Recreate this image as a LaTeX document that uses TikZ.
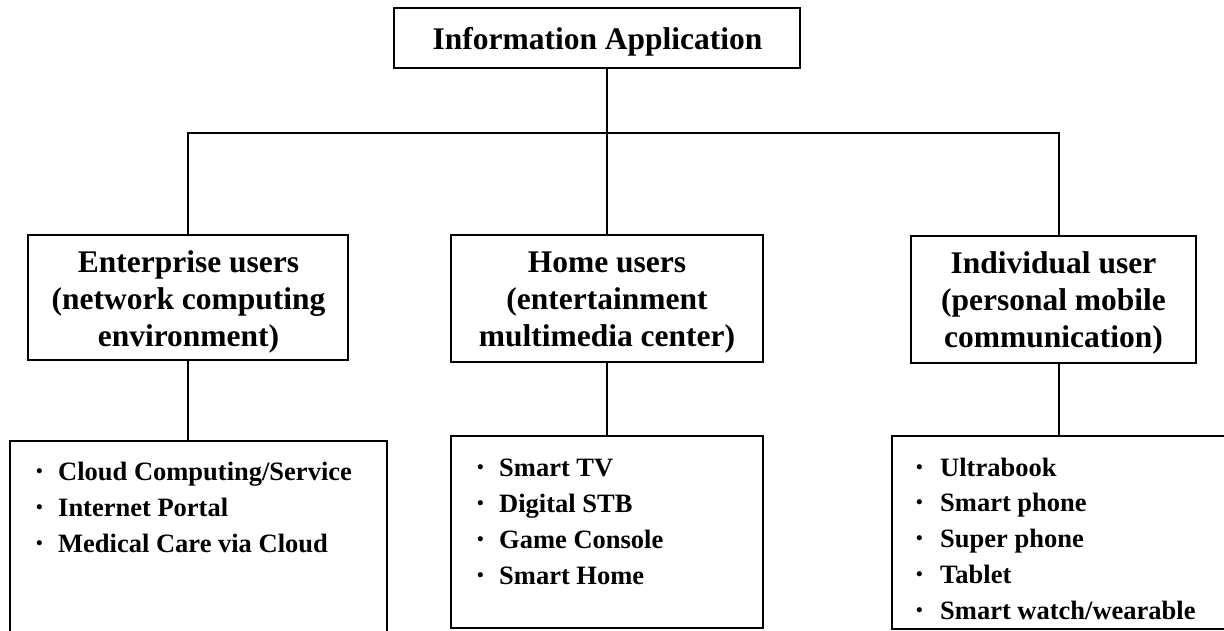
\documentclass[tikz,border=0pt]{standalone}
\usepackage{fontspec}
\setmainfont{Liberation Serif}
\newcommand{\bul}[1]{\makebox[#1][l]{\raisebox{3pt}{\fontsize{19}{19}\selectfont •}}}
\begin{document}
\begin{tikzpicture}[x=1pt,y=-1pt,
  box/.style={draw, line width=1.6pt, inner sep=0pt},
  head/.style={font=\bfseries\fontsize{31.5}{37}\selectfont, align=center, inner sep=0pt, text depth=0pt},
  items/.style={font=\bfseries\fontsize{26.5}{35.6}\selectfont, align=left, inner sep=0pt, anchor=base west},
  wire/.style={line width=1.6pt}]
\useasboundingbox (0,0) rectangle (1224,630);
\clip (0,0) rectangle (1224,630);
% boxes
\node[box, minimum width=406, minimum height=60] (top) at (597,38) {};
\node[box, minimum width=320, minimum height=125] (ent) at (188,297.5) {};
\node[box, minimum width=312, minimum height=127] (home) at (607,298.5) {};
\node[box, minimum width=285, minimum height=127] (ind) at (1053.5,299.5) {};
\node[box, minimum width=377, minimum height=219] (entl) at (198.5,550.5) {};
\node[box, minimum width=312, minimum height=192] (homel) at (607,532) {};
\node[box, minimum width=348, minimum height=193] (indl) at (1066,532.5) {};
% texts
\node[head, anchor=base] (ttop) at (597.5,49) {Information Application};
\node[head] (tent) at (188.5,299) {Enterprise users\\(network computing\\environment)};
\node[head] (thome) at (607,299) {Home users\\(entertainment\\multimedia center)};
\node[head] (tind) at (1053.5,299.5) {Individual user\\(personal mobile\\communication)};
\node[items] (lent) at (36,552) {\bul{22pt}Cloud Computing/Service\\\bul{22pt}Internet Portal\\\bul{22pt}Medical Care via Cloud};
\node[items, font=\bfseries\fontsize{26.5}{36}\selectfont] (lhome) at (477,584) {\bul{22pt}Smart TV\\\bul{22pt}Digital STB\\\bul{22pt}Game Console\\\bul{22pt}Smart Home};
\node[items, font=\bfseries\fontsize{26.5}{35.75}\selectfont] (lind) at (916,619) {\bul{24pt}Ultrabook\\\bul{24pt}Smart phone\\\bul{24pt}Super phone\\\bul{24pt}Tablet\\\bul{24pt}Smart watch/wearable};
% connectors
\coordinate (jl) at (188,133);
\coordinate (jm) at (607,133);
\coordinate (jr) at (1059,133);
\draw[wire] (top.south -| jm) -- (jm);
\draw[wire] (jl |- ent.north) -- (jl) -- (jr) -- (jr |- ind.north);
\draw[wire] (jm) -- (home.north);
\draw[wire] (jl |- ent.south) -- (jl |- entl.north);
\draw[wire] (home.south) -- (homel.north);
\draw[wire] (jr |- ind.south) -- (jr |- indl.north);
\end{tikzpicture}
\end{document}
